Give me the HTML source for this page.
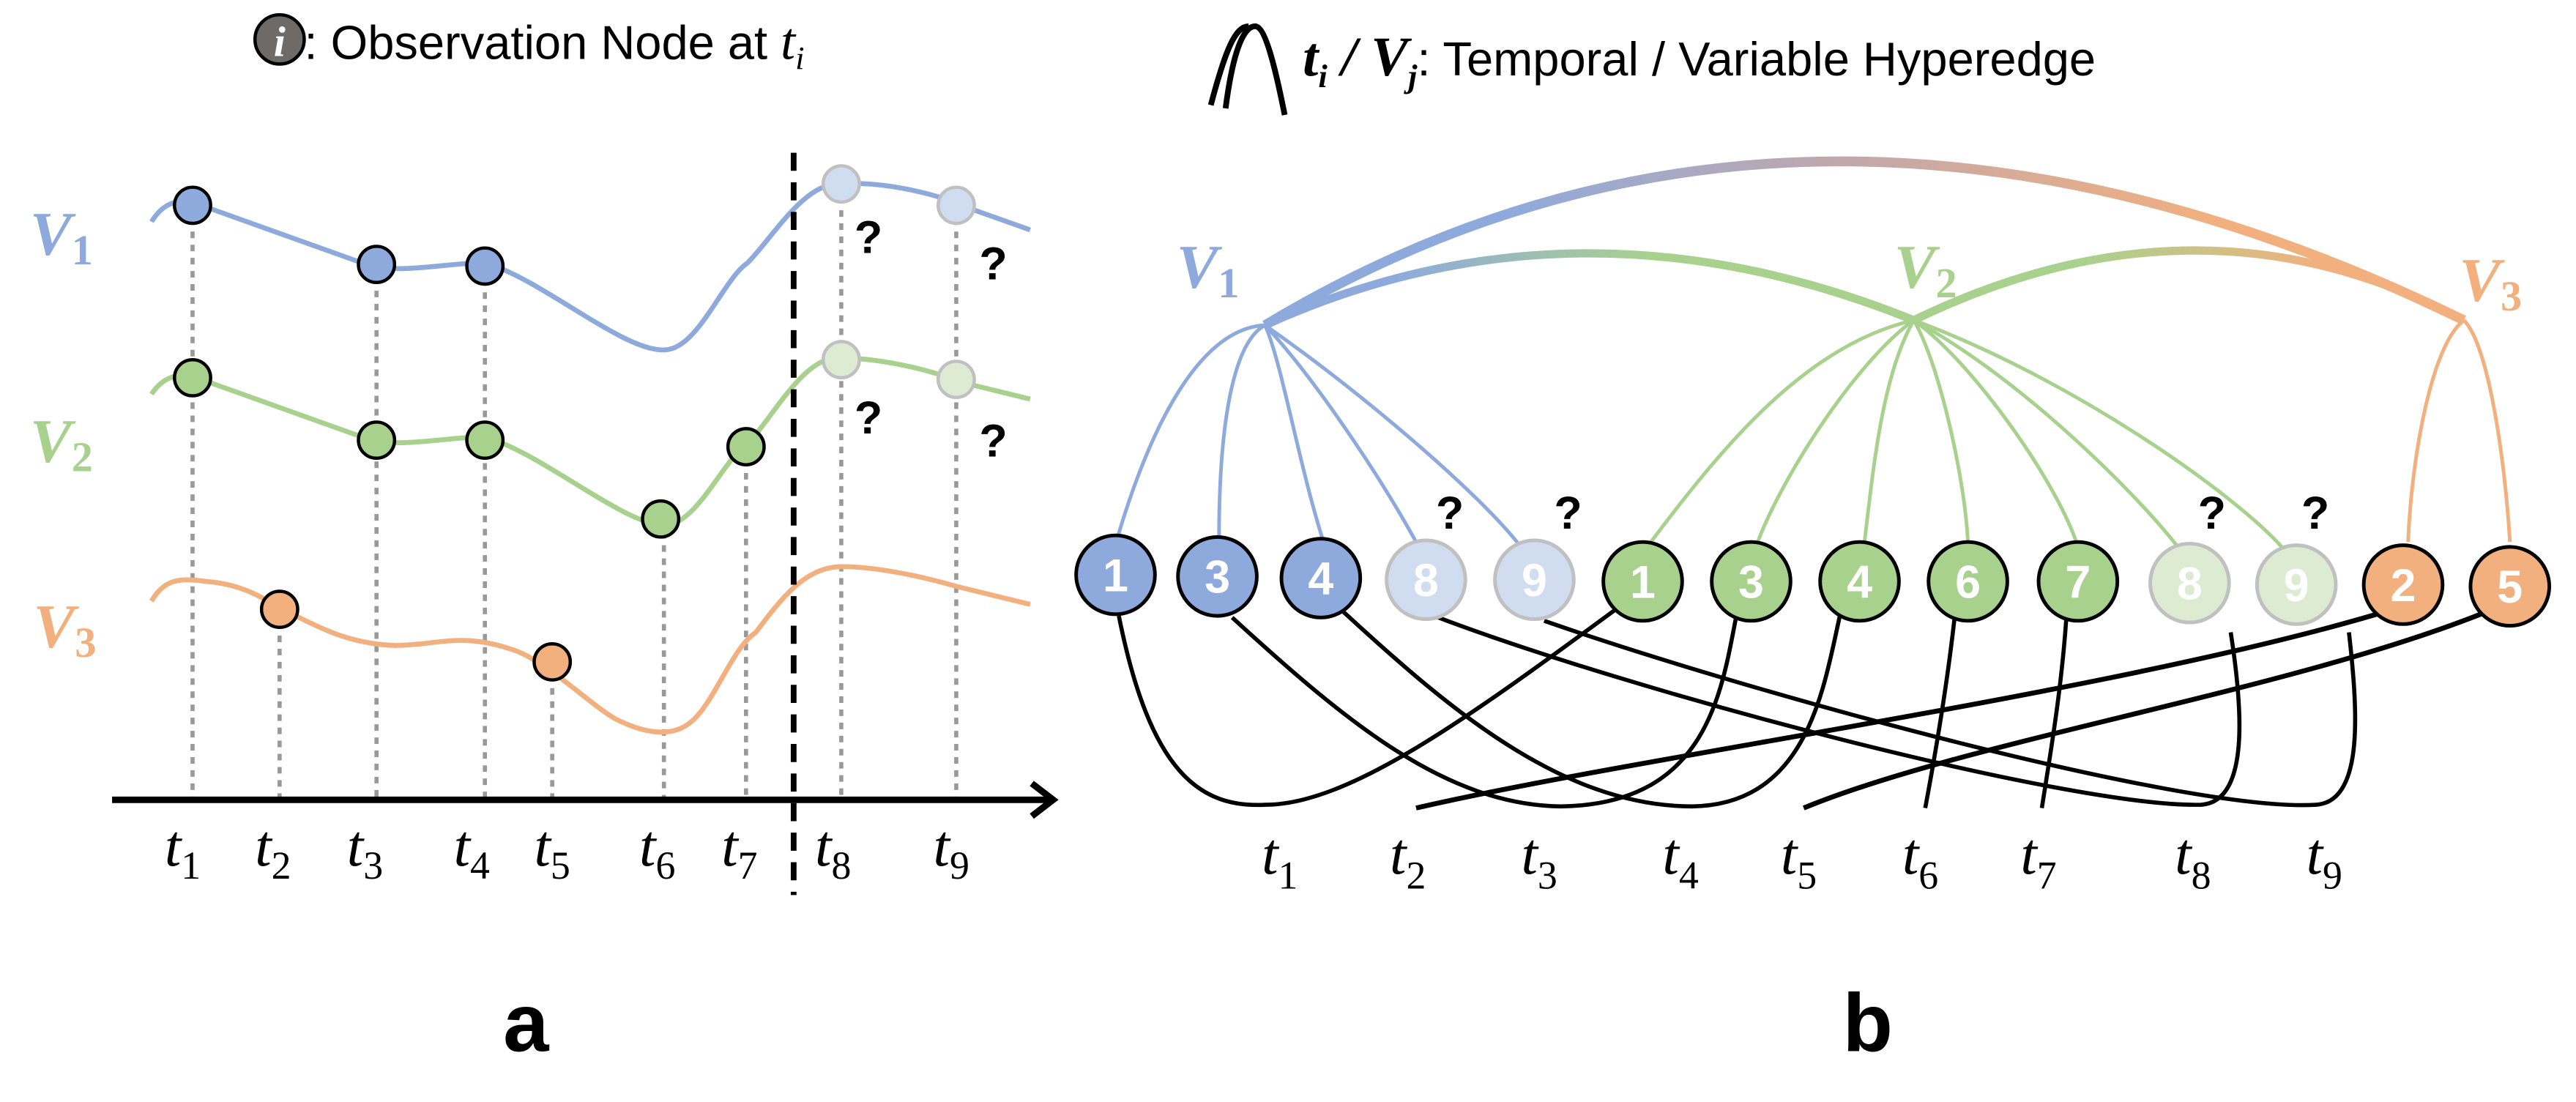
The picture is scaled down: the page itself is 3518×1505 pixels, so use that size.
<!DOCTYPE html>
<html><head><meta charset="utf-8"><style>
html,body{margin:0;padding:0;background:#fff;}
svg{display:block;}
.t{font-family:"Liberation Serif",serif;font-style:italic;font-size:36px;fill:#000;}
.s{font-family:"Liberation Serif",serif;font-style:normal;font-size:24px;}
.V{font-family:"Liberation Serif",serif;font-style:italic;font-weight:bold;font-size:38px;}
.q{font-family:"Liberation Sans",sans-serif;font-weight:bold;font-size:28px;fill:#000;}
.n{font-family:"Liberation Sans",sans-serif;font-weight:bold;font-size:28px;fill:#fff;text-anchor:middle;}
.lg{font-family:"Liberation Sans",sans-serif;font-size:29px;fill:#000;}
</style></head><body>
<svg width="3518" height="1505" viewBox="0 0 1568 671" xmlns="http://www.w3.org/2000/svg">
<defs>
<linearGradient id="g13" x1="770" y1="0" x2="1500" y2="0" gradientUnits="userSpaceOnUse"><stop offset="0.2" stop-color="#8eaadc"/><stop offset="0.5" stop-color="#c4a8a8"/><stop offset="0.8" stop-color="#f2b07f"/></linearGradient>
<linearGradient id="g12" x1="770" y1="0" x2="1165" y2="0" gradientUnits="userSpaceOnUse"><stop offset="0.2" stop-color="#8eaadc"/><stop offset="0.6" stop-color="#a9d18e"/></linearGradient>
<linearGradient id="g23" x1="1165" y1="0" x2="1500" y2="0" gradientUnits="userSpaceOnUse"><stop offset="0.3" stop-color="#a9d18e"/><stop offset="0.75" stop-color="#f2b07f"/></linearGradient>
</defs>
<!-- Panel a legend -->
<circle cx="170" cy="24" r="15" fill="#6d6a68" stroke="#000" stroke-width="2"/>
<text x="170" y="34" class="t" style="font-size:26px;font-weight:bold;fill:#fff" text-anchor="middle">i</text>
<text x="185" y="36" class="lg">: Observation Node at <tspan class="t" style="font-size:32px">t</tspan><tspan class="t" style="font-size:20px" dy="6">i</tspan></text>
<!-- dotted verticals -->
<g stroke="#999" stroke-width="2.5" stroke-dasharray="4,4">
<line x1="117" y1="125" x2="117" y2="487"/><line x1="170" y1="371" x2="170" y2="487"/>
<line x1="229" y1="161" x2="229" y2="487"/><line x1="295" y1="162" x2="295" y2="487"/>
<line x1="336" y1="403" x2="336" y2="487"/><line x1="404" y1="316" x2="404" y2="487"/>
<line x1="454" y1="272" x2="454" y2="487"/><line x1="512" y1="112" x2="512" y2="487"/>
<line x1="582" y1="125" x2="582" y2="487"/>
</g>
<!-- curves -->
<path d="M92,135 C100,122 110,120 125,126 L220,160 C240,168 270,160 295,160 C330,170 380,215 405,213 C425,212 440,170 455,160 C470,145 490,110 512,112 C540,110 575,120 582,124 L627,140" fill="none" stroke="#8eaadc" stroke-width="3"/>
<path d="M92,240 C100,228 110,226 125,232 L220,266 C240,274 270,266 295,266 C330,276 380,320 405,320 C425,318 440,280 455,270 C470,255 490,215 512,218 C540,218 575,228 582,232 L627,243" fill="none" stroke="#a9d18e" stroke-width="3"/>
<path d="M92,366 C100,352 110,352 125,354 C150,356 160,365 180,375 C200,385 215,392 240,393 C265,393 280,385 310,395 C330,400 360,430 375,438 C395,448 410,448 420,440 C435,428 445,395 460,385 C475,365 490,345 512,345 C540,345 575,355 582,357 L627,368" fill="none" stroke="#f2b07f" stroke-width="3"/>
<!-- circles -->
<g stroke="#000" stroke-width="2">
<circle cx="117" cy="125" r="11" fill="#8eaadc"/><circle cx="229" cy="161" r="11" fill="#8eaadc"/><circle cx="295" cy="162" r="11" fill="#8eaadc"/>
<circle cx="117" cy="230" r="11" fill="#a9d18e"/><circle cx="229" cy="268" r="11" fill="#a9d18e"/><circle cx="295" cy="268" r="11" fill="#a9d18e"/><circle cx="402" cy="316" r="11" fill="#a9d18e"/><circle cx="454" cy="272" r="11" fill="#a9d18e"/>
<circle cx="170" cy="371" r="11" fill="#f2b07f"/><circle cx="336" cy="403" r="11" fill="#f2b07f"/>
</g>
<g stroke="#c0c0c0" stroke-width="2">
<circle cx="512" cy="112" r="11" fill="#d0dcef"/><circle cx="582" cy="125" r="11" fill="#d0dcef"/>
<circle cx="512" cy="219" r="11" fill="#ddebd2"/><circle cx="582" cy="231" r="11" fill="#ddebd2"/>
</g>
<text x="520" y="154" class="q">?</text><text x="596" y="170" class="q">?</text>
<text x="520" y="264" class="q">?</text><text x="596" y="278" class="q">?</text>
<!-- axis -->
<line x1="68" y1="487" x2="638" y2="487" stroke="#000" stroke-width="4"/>
<polyline points="628,477 641,487 628,497" fill="none" stroke="#000" stroke-width="4"/>
<line x1="483" y1="93" x2="483" y2="545" stroke="#000" stroke-width="3.5" stroke-dasharray="11,7"/>
<!-- V labels -->
<text x="18" y="155" class="V" fill="#8eaadc">V<tspan class="s" style="font-weight:bold;font-size:26px" dy="6">1</tspan></text>
<text x="18" y="281" class="V" fill="#a9d18e">V<tspan class="s" style="font-weight:bold;font-size:26px" dy="6">2</tspan></text>
<text x="20" y="394" class="V" fill="#f2b07f">V<tspan class="s" style="font-weight:bold;font-size:26px" dy="6">3</tspan></text>
<!-- t labels a -->
<g class="t">
<text x="100" y="527">t<tspan class="s" dy="8">1</tspan></text>
<text x="155" y="527">t<tspan class="s" dy="8">2</tspan></text>
<text x="211" y="527">t<tspan class="s" dy="8">3</tspan></text>
<text x="276" y="527">t<tspan class="s" dy="8">4</tspan></text>
<text x="325" y="527">t<tspan class="s" dy="8">5</tspan></text>
<text x="389" y="527">t<tspan class="s" dy="8">6</tspan></text>
<text x="439" y="527">t<tspan class="s" dy="8">7</tspan></text>
<text x="496" y="527">t<tspan class="s" dy="8">8</tspan></text>
<text x="568" y="527">t<tspan class="s" dy="8">9</tspan></text>
</g>
<text x="320" y="640" font-family="Liberation Sans,sans-serif" font-weight="bold" font-size="50" text-anchor="middle">a</text>

<!-- Panel b legend -->
<path d="M737,64 C746,30 752,16 760,16 M746,66 C750,35 756,16 764,16 C770,16 776,40 782,70" fill="none" stroke="#000" stroke-width="3.5"/>
<text x="793" y="46" class="lg"><tspan class="t" style="font-weight:bold;font-size:34px">t</tspan><tspan class="t" style="font-weight:bold;font-size:20px" dy="7">i</tspan><tspan class="t" style="font-weight:bold;font-size:34px" dy="-7"> / V</tspan><tspan class="t" style="font-weight:bold;font-size:20px" dy="7">j</tspan><tspan dy="-7">: Temporal / Variable Hyperedge</tspan></text>
<!-- top arcs -->
<path d="M770,198 Q1100,0 1500,195" fill="none" stroke="url(#g13)" stroke-width="6"/>
<path d="M770,198 Q960,112 1165,195" fill="none" stroke="url(#g12)" stroke-width="5"/>
<path d="M1165,195 Q1340,110 1500,195" fill="none" stroke="url(#g23)" stroke-width="5"/>
<text x="716" y="175" class="V" fill="#8eaadc">V<tspan class="s" style="font-weight:bold;font-size:26px" dy="6">1</tspan></text>
<text x="1153" y="175" class="V" fill="#a9d18e">V<tspan class="s" style="font-weight:bold;font-size:26px" dy="6">2</tspan></text>
<text x="1497" y="183" class="V" fill="#f2b07f">V<tspan class="s" style="font-weight:bold;font-size:26px" dy="6">3</tspan></text>
<!-- hub lines -->
<g fill="none" stroke-width="2.2">
<g stroke="#8eaadc">
<path d="M770,198 C730,200 700,260 680,328"/>
<path d="M770,198 C748,210 742,270 742,328"/>
<path d="M770,198 C780,220 790,280 805,328"/>
<path d="M770,198 C800,230 840,290 862,330"/>
<path d="M770,198 C830,240 900,300 925,332"/>
</g>
<g stroke="#a9d18e">
<path d="M1165,195 C1100,210 1050,270 1005,330"/>
<path d="M1165,195 C1130,220 1085,290 1070,330"/>
<path d="M1165,195 C1145,230 1140,290 1135,330"/>
<path d="M1165,195 C1180,220 1196,290 1198,330"/>
<path d="M1165,195 C1200,220 1250,290 1264,330"/>
<path d="M1165,195 C1230,230 1300,300 1325,332"/>
<path d="M1165,195 C1260,230 1360,300 1390,334"/>
</g>
<g stroke="#f2b07f">
<path d="M1500,195 C1480,210 1468,280 1466,330"/>
<path d="M1500,195 C1515,210 1525,280 1528,330"/>
</g>
</g>
<!-- bottom curves -->
<g fill="none" stroke="#000" stroke-width="2.5">
<path d="M681,375 C700,470 730,492 770,490 C820,490 890,440 985,370"/>
<path d="M750,376 C820,440 880,490 950,491 C1040,490 1048,420 1057,375"/>
<path d="M815,370 C880,430 950,491 1030,491 C1100,490 1110,420 1120,375"/>
<path d="M873,375 C990,420 1260,492 1340,490 C1370,488 1365,430 1358,385"/>
<path d="M940,378 C1060,420 1330,495 1410,490 C1440,488 1435,430 1430,385"/>
<path d="M1190,375 C1185,420 1178,460 1172,492"/>
<path d="M1258,375 C1255,420 1248,460 1243,492"/>
<path d="M1460,370 C1300,420 1000,460 862,492" stroke-width="3"/>
<path d="M1520,370 C1400,420 1200,450 1098,492" stroke-width="3"/>
</g>
<!-- nodes -->
<g stroke-width="2.2">
<g stroke="#000" fill="#8eaadc"><circle cx="679" cy="350" r="24"/><circle cx="741" cy="351" r="24"/><circle cx="804" cy="352" r="24"/></g>
<g stroke="#c0c0c0" fill="#d0dcef"><circle cx="868" cy="353" r="24"/><circle cx="934" cy="353" r="24"/></g>
<g stroke="#000" fill="#a9d18e"><circle cx="1000" cy="354" r="24"/><circle cx="1066" cy="354" r="24"/><circle cx="1132" cy="354" r="24"/><circle cx="1198" cy="354" r="24"/><circle cx="1265" cy="354" r="24"/></g>
<g stroke="#c0c0c0" fill="#ddebd2"><circle cx="1333" cy="355" r="24"/><circle cx="1398" cy="356" r="24"/></g>
<g stroke="#000" fill="#f2b07f"><circle cx="1463" cy="356" r="24"/><circle cx="1528" cy="357" r="24"/></g>
</g>
<g class="n">
<text x="679" y="360">1</text><text x="741" y="361">3</text><text x="804" y="362">4</text><text x="868" y="363">8</text><text x="934" y="363">9</text>
<text x="1000" y="364">1</text><text x="1066" y="364">3</text><text x="1132" y="364">4</text><text x="1198" y="364">6</text><text x="1265" y="364">7</text>
<text x="1333" y="365">8</text><text x="1398" y="366">9</text><text x="1463" y="366">2</text><text x="1528" y="367">5</text>
</g>
<text x="874" y="322" class="q">?</text><text x="946" y="322" class="q">?</text>
<text x="1338" y="322" class="q">?</text><text x="1401" y="322" class="q">?</text>
<!-- t labels b -->
<g class="t">
<text x="768" y="532">t<tspan class="s" dy="9">1</tspan></text>
<text x="846" y="532">t<tspan class="s" dy="9">2</tspan></text>
<text x="926" y="532">t<tspan class="s" dy="9">3</tspan></text>
<text x="1012" y="532">t<tspan class="s" dy="9">4</tspan></text>
<text x="1084" y="532">t<tspan class="s" dy="9">5</tspan></text>
<text x="1158" y="532">t<tspan class="s" dy="9">6</tspan></text>
<text x="1230" y="532">t<tspan class="s" dy="9">7</tspan></text>
<text x="1324" y="532">t<tspan class="s" dy="9">8</tspan></text>
<text x="1404" y="532">t<tspan class="s" dy="9">9</tspan></text>
</g>
<text x="1137" y="640" font-family="Liberation Sans,sans-serif" font-weight="bold" font-size="50" text-anchor="middle">b</text>
</svg>
</body></html>
